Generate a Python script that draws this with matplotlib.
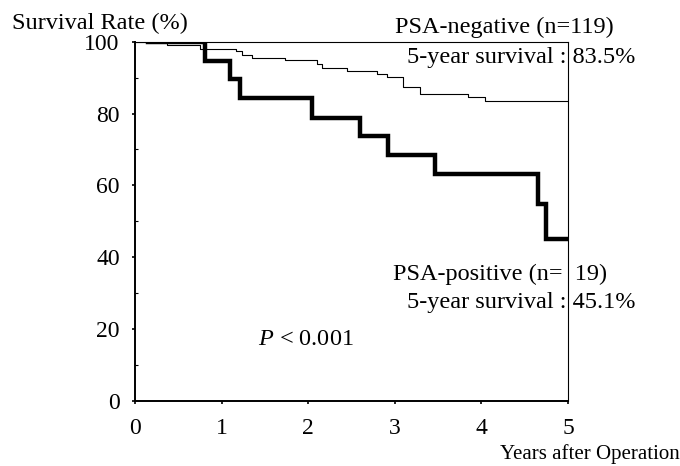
import matplotlib
matplotlib.use("Agg")
import matplotlib.pyplot as plt

# Kaplan-Meier step data (years, survival %)
pos_times = [0.15, 0.81, 1.10, 1.21, 2.04, 2.60, 2.92, 3.46, 4.65, 4.75, 5.0]
pos_surv = [100, 94.7, 89.5, 84.2, 78.9, 73.7, 68.4, 63.2, 54.9, 45.1, 45.1]

neg_times = [0, 0.37, 0.75, 1.17, 1.23, 1.35, 1.73, 2.10, 2.16, 2.45, 2.79,
             2.91, 3.10, 3.29, 3.85, 4.04, 5.0]
neg_surv = [100, 99.2, 98.0, 97.3, 96.4, 95.6, 94.9, 93.8, 92.6, 91.9, 91.0,
            90.1, 87.3, 85.5, 84.5, 83.5, 83.5]

x_ticks = [0, 1, 2, 3, 4, 5]
y_ticks = [0, 20, 40, 60, 80, 100]
y_minor = [10, 30, 50, 70, 90]

plt.rcParams["font.family"] = ["Liberation Serif", "DejaVu Serif"]
plt.rcParams["mathtext.fontset"] = "custom"
plt.rcParams["mathtext.rm"] = "Liberation Serif"
plt.rcParams["mathtext.it"] = "Liberation Serif:italic"

W, H = 680, 466
fig = plt.figure(figsize=(W / 100, H / 100), dpi=100)
ax = fig.add_axes([135 / W, 1 - 401 / H, (568 - 135) / W, (401 - 41.7) / H])

ax.step(neg_times, neg_surv, where="post", color="black", lw=0.8)
ax.step(pos_times, pos_surv, where="post", color="black", lw=3.2,
        solid_joinstyle="miter")

ax.set_xlim(0, 5)
ax.set_ylim(0, 100)
ax.set_xticks(x_ticks)
ax.set_yticks(y_ticks)
ax.set_yticks(y_minor, minor=True)
ax.tick_params(axis="both", which="major", direction="out", length=2.5,
               width=1.2, labelsize=17)
ax.tick_params(axis="y", which="major", pad=8.5)
ax.tick_params(axis="x", which="major", pad=9.8)
ax.tick_params(axis="y", which="minor", direction="in", length=2, width=0.8)

for s in ["left", "bottom"]:
    ax.spines[s].set_linewidth(1.4)
for s in ["top", "right"]:
    ax.spines[s].set_linewidth(0.8)


def px_text(x, y, s, size=17.5, **kw):
    # place text using pixel coordinates from the top-left corner
    ax.text(x / W, 1 - y / H, s, transform=fig.transFigure, ha="left",
            va="baseline", fontsize=size, zorder=1, **kw)


px_text(12, 29, "Survival Rate (%)")
px_text(395, 33, "PSA-negative (n=119)")
px_text(407, 63, "5-year survival : 83.5%")
px_text(393, 280, "PSA-positive (n=  19)")
px_text(407, 308, "5-year survival : 45.1%")
px_text(258, 345, "$\\mathit{P}$ < 0.001")
px_text(500, 459, "Years after Operation", size=15)

fig.savefig("out.png", dpi=100)
